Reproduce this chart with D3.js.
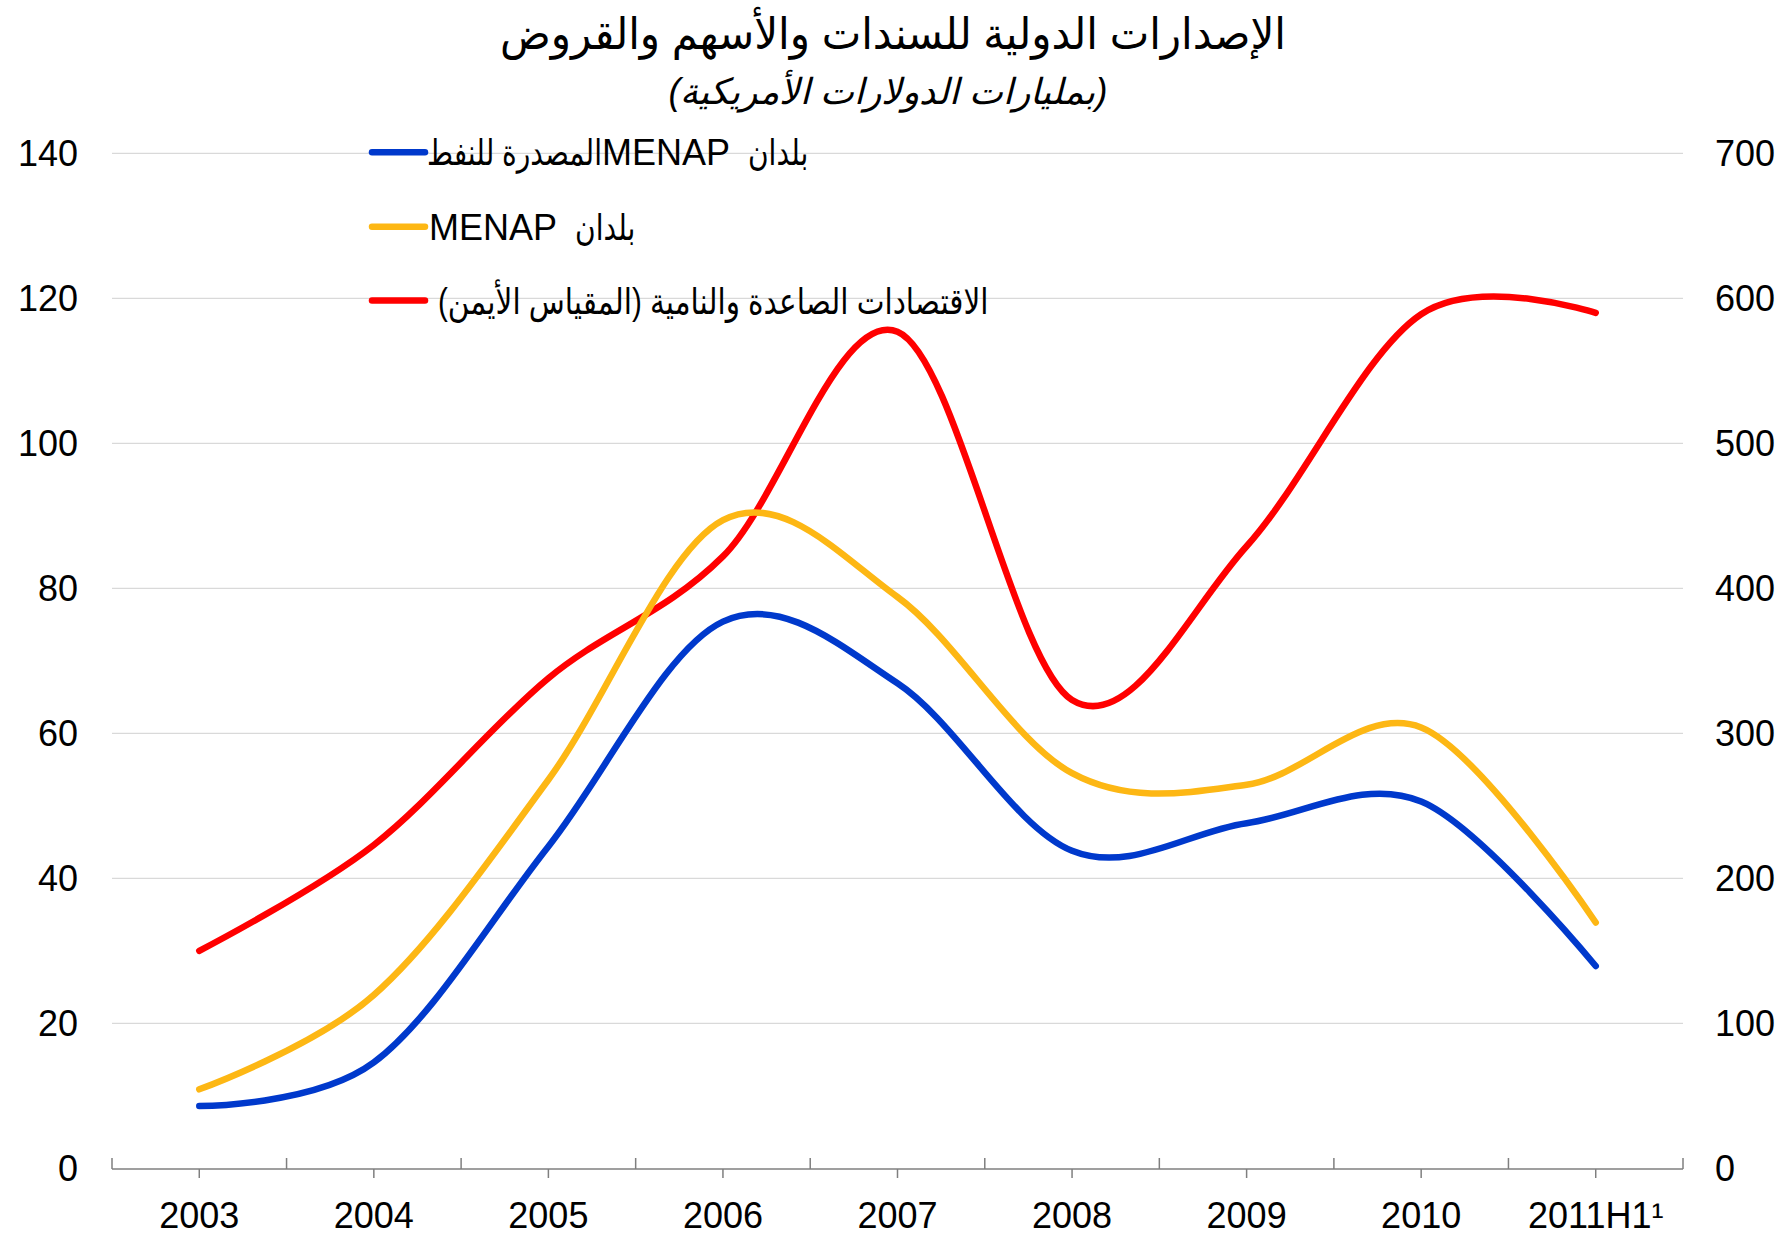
<!DOCTYPE html>
<html>
<head>
<meta charset="utf-8">
<script src="https://cdn.jsdelivr.net/npm/d3@7"></script>
<style>
  body { margin: 0; background: #fff; }
  text { font-family: "Liberation Sans", Arial, "DejaVu Sans", sans-serif; fill: #000; }
</style>
</head>
<body>
<div id="chart"></div>
<script>
// categories and series (billions of US dollars)
var years = ["2003", "2004", "2005", "2006", "2007", "2008", "2009", "2010", "2011H1\u00B9"];
var oilExporters = [8.6, 14.6, 44.4, 75.4, 66.9, 43.8, 47.6, 50.6, 27.9];
var menap = [10.9, 23.9, 53.6, 89.4, 78.8, 54.5, 52.9, 60.8, 33.9];
var emerging = [150, 223, 338, 422, 577, 323, 429, 589, 590];   // right scale

var leftTicks = [0, 20, 40, 60, 80, 100, 120, 140];
var rightTicks = [0, 100, 200, 300, 400, 500, 600, 700];

// legend labels, pieces in visual (left to right) order
var legendParts = [
  ["المصدرة للنفط", "MENAP", "بلدان"],
  ["MENAP", "بلدان"],
  ["الاقتصادات الصاعدة والنامية (المقياس الأيمن)"]
];
var colors = ["#0039cc", "#fdb714", "#ff0000"];

var width = 1786, height = 1237;
var svg = d3.select("#chart").append("svg")
  .attr("width", width)
  .attr("height", height);

var isArabic = function (s) { return /[\u0600-\u06FF]/.test(s); };

// scales
var x = d3.scaleBand().domain(years).range([112, 1683]);
var yL = d3.scaleLinear().domain([0, 140]).range([1168.3, 153.3]);
var yR = d3.scaleLinear().domain([0, 700]).range([1168.3, 153.3]);
var cx = function (d) { return x(d) + x.bandwidth() / 2; };

// title
svg.append("text")
  .attr("x", 893).attr("y", 49)
  .attr("text-anchor", "middle")
  .attr("direction", "rtl")
  .attr("textLength", 786)
  .attr("lengthAdjust", "spacingAndGlyphs")
  .style("font-size", "44px")
  .text("الإصدارات الدولية للسندات والأسهم والقروض");
svg.append("text")
  .attr("x", 888).attr("y", 104)
  .attr("text-anchor", "middle")
  .attr("direction", "rtl")
  .style("font-size", "36px")
  .style("font-style", "italic")
  .text("(بمليارات الدولارات الأمريكية)");

// gridlines
svg.append("g").selectAll("line")
  .data(leftTicks.slice(1)).enter()
  .append("line")
  .attr("x1", 112).attr("x2", 1683)
  .attr("y1", function (d) { return yL(d); })
  .attr("y2", function (d) { return yL(d); })
  .attr("stroke", "#d9d9d9")
  .attr("stroke-width", 1.3);

// left axis labels
svg.append("g").selectAll("text")
  .data(leftTicks).enter()
  .append("text")
  .attr("x", 78)
  .attr("y", function (d) { return yL(d) + 13; })
  .attr("text-anchor", "end")
  .style("font-size", "36px")
  .text(function (d) { return d; });

// right axis labels
svg.append("g").selectAll("text")
  .data(rightTicks).enter()
  .append("text")
  .attr("x", 1715)
  .attr("y", function (d) { return yR(d) + 13; })
  .attr("text-anchor", "start")
  .style("font-size", "36px")
  .text(function (d) { return d; });

// x axis: line, boundary ticks up, category ticks down
var axisG = svg.append("g");
axisG.append("line")
  .attr("x1", 112).attr("x2", 1683)
  .attr("y1", 1169).attr("y2", 1169)
  .attr("stroke", "#7f7f7f").attr("stroke-width", 1.5);
var bounds = years.map(function (d) { return x(d); }).concat([x.range()[1]]);
axisG.selectAll(".tb").data(bounds).enter()
  .append("line")
  .attr("x1", function (d) { return d; }).attr("x2", function (d) { return d; })
  .attr("y1", 1158).attr("y2", 1169)
  .attr("stroke", "#7f7f7f").attr("stroke-width", 1.5);
axisG.selectAll(".tc").data(years).enter()
  .append("line")
  .attr("x1", cx).attr("x2", cx)
  .attr("y1", 1169).attr("y2", 1178)
  .attr("stroke", "#7f7f7f").attr("stroke-width", 1.5);
axisG.selectAll("text").data(years).enter()
  .append("text")
  .attr("x", cx).attr("y", 1228)
  .attr("text-anchor", "middle")
  .style("font-size", "36px")
  .text(function (d) { return d; });

// lines
var lineL = d3.line()
  .x(function (d, i) { return cx(years[i]); })
  .y(function (d) { return yL(d); })
  .curve(d3.curveCatmullRom.alpha(0));
var lineR = d3.line()
  .x(function (d, i) { return cx(years[i]); })
  .y(function (d) { return yR(d); })
  .curve(d3.curveCatmullRom.alpha(0));

var series = [
  { vals: emerging, gen: lineR, color: colors[2] },
  { vals: menap, gen: lineL, color: colors[1] },
  { vals: oilExporters, gen: lineL, color: colors[0] }
];
svg.append("g").selectAll("path")
  .data(series).enter()
  .append("path")
  .attr("d", function (d) { return d.gen(d.vals); })
  .attr("fill", "none")
  .attr("stroke", function (d) { return d.color; })
  .attr("stroke-width", 6.5)
  .attr("stroke-linecap", "round")
  .attr("stroke-linejoin", "round");

// legend
var legendY = [152.3, 226.7, 300.5];
var legendX = [427, 429, 438];
var legend = svg.append("g");
legend.selectAll("line").data(legendParts).enter()
  .append("line")
  .attr("x1", 372).attr("x2", 425)
  .attr("y1", function (d, i) { return legendY[i]; })
  .attr("y2", function (d, i) { return legendY[i]; })
  .attr("stroke", function (d, i) { return colors[i]; })
  .attr("stroke-width", 6.5)
  .attr("stroke-linecap", "round");

var measure = function (s) {
  var tmp = svg.append("text").style("font-size", "36px").text(s);
  var w = tmp.node().getComputedTextLength();
  tmp.remove();
  return w;
};

legendParts.forEach(function (parts, i) {
  var t = legend.append("text")
    .attr("y", legendY[i] + 13)
    .style("font-size", "36px");
  if (parts.length === 1) {
    // single right-to-left label, left edge at legendX
    t.attr("x", legendX[i])
      .attr("direction", "rtl").attr("text-anchor", "end")
      .attr("textLength", measure(parts[0]) * 0.82)
      .attr("lengthAdjust", "spacingAndGlyphs")
      .text(parts[0]);
    return;
  }
  var cursor = legendX[i];
  parts.forEach(function (p, j) {
    if (j > 0 && isArabic(p)) cursor += 18;   // double space before "بلدان"
    var w = measure(p);
    var ts = t.append("tspan").attr("x", cursor).text(p);
    if (isArabic(p)) {
      w = w * 0.78;
      ts.attr("textLength", w).attr("lengthAdjust", "spacingAndGlyphs");
    }
    cursor += w;
  });
});
</script>
</body>
</html>
